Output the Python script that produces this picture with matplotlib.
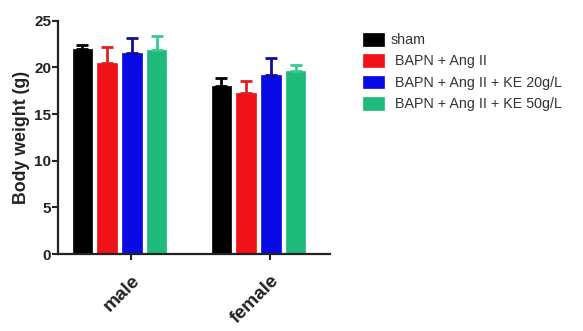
import matplotlib
matplotlib.use("Agg")
import matplotlib.pyplot as plt
import numpy as np

categories = ["male", "female"]
series = ["sham", " BAPN + Ang II", " BAPN + Ang II + KE 20g/L", " BAPN + Ang II + KE 50g/L"]
means = {
    "sham": [22.0, 18.05],
    " BAPN + Ang II": [20.5, 17.2],
    " BAPN + Ang II + KE 20g/L": [21.5, 19.2],
    " BAPN + Ang II + KE 50g/L": [21.9, 19.6],
}
errors = {
    "sham": [0.4, 0.8],
    " BAPN + Ang II": [1.65, 1.3],
    " BAPN + Ang II + KE 20g/L": [1.6, 1.85],
    " BAPN + Ang II + KE 50g/L": [1.5, 0.7],
}
colors = ["#000000", "#f01218", "#0a0ae6", "#1dba7c"]
err_colors = ["#000000", "#e02020", "#101090", "#3cc890"]
yticks = [0, 5, 10, 15, 20, 25]

plt.rcParams['font.family'] = ['Liberation Sans', 'DejaVu Sans']
fig = plt.figure(figsize=(5.83, 3.31), dpi=100)
ax = fig.add_axes([58/583, 1-254/331, (330-58)/583, (254-20.7)/331])

x = np.arange(len(categories))
pitch = 0.178
width = 0.14
for i, s in enumerate(series):
    pos = x + (i - 1.5) * pitch
    m = np.array(means[s])
    e = np.array(errors[s])
    ax.bar(pos, m, width, color=colors[i], edgecolor=colors[i], linewidth=0.5, label=s, zorder=2)
    ax.errorbar(pos, m, yerr=[np.zeros_like(e), e], fmt='none', ecolor=err_colors[i],
                elinewidth=2.0, capsize=4.5, capthick=2.0, zorder=3)

ax.set_xlim(-0.443, 1.514)
ax.set_ylim(0, 25)
ax.set_yticks(yticks)
ax.set_yticklabels([str(t) for t in yticks], fontsize=11, fontweight='bold', color='#222222')
ax.set_xticks(x + 0.082)
ax.set_xticklabels(categories, rotation=45, ha='right', rotation_mode='anchor',
                   fontsize=13.8, fontweight='bold', color='#222222')
ax.tick_params(axis='both', direction='out', width=1.5, length=4, color='#222222', pad=1)
ax.tick_params(axis='x', pad=9)
for sp in ['top', 'right']:
    ax.spines[sp].set_visible(False)
for sp in ['left', 'bottom']:
    ax.spines[sp].set_linewidth(1.6)
    ax.spines[sp].set_color('#222222')
ax.set_ylabel("Body weight (g)", fontsize=12.8, fontweight='bold', color='#222222', labelpad=3)

leg = fig.legend(loc='upper left', bbox_to_anchor=(357/583, 1-27/331), frameon=False,
                 fontsize=10.3, handlelength=1.5, handleheight=1.0, handletextpad=0.45,
                 labelspacing=0.5, borderaxespad=0)
for t in leg.get_texts():
    t.set_color('#333333')

fig.savefig("out.png", dpi=100)
